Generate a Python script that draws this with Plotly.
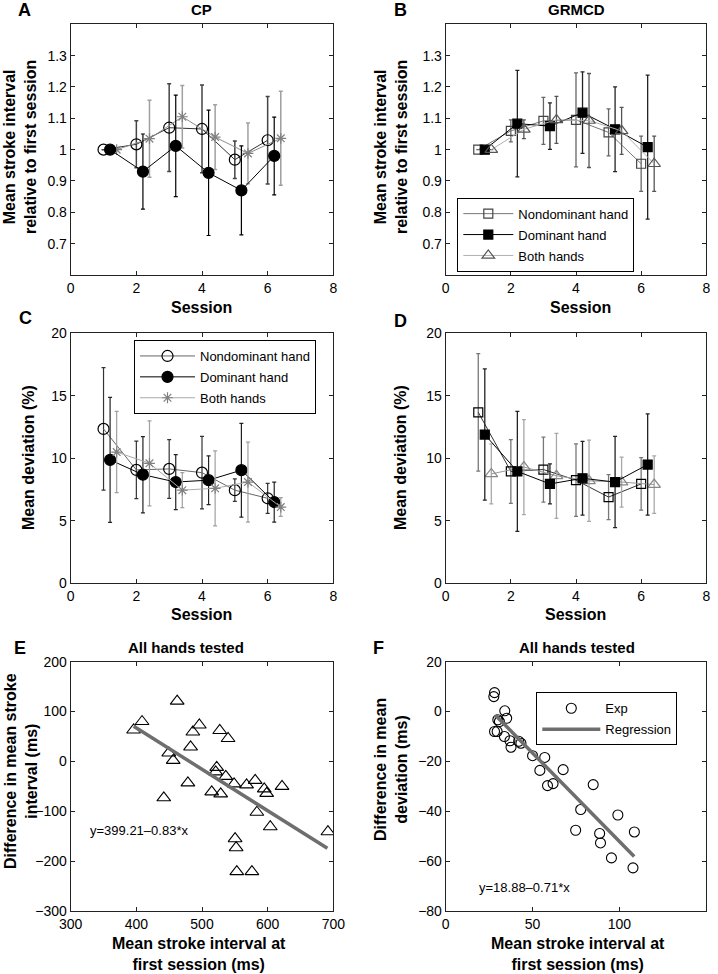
import plotly.graph_objects as go

W, H = 718, 974

# ---------------- data ----------------
sessions = [1, 2, 3, 4, 5, 6]
dom_shift = 0.2
both_shift = 0.4

# Panel A (CP) - mean stroke interval relative to first session
a_nondom = [1.0, 1.017, 1.07, 1.066, 0.968, 1.03]
a_nondom_err = [0, 0.075, 0.14, 0.14, 0.06, 0.14]
a_dom = [1.0, 0.93, 1.012, 0.926, 0.87, 0.98]
a_dom_err = [0, 0.12, 0.162, 0.2, 0.142, 0.124]
a_both = [1.0, 1.035, 1.105, 1.04, 0.988, 1.036]
a_both_err = [0, 0.123, 0.1, 0.103, 0.097, 0.15]

# Panel B (GRMCD)
b_nondom = [1.0, 1.06, 1.092, 1.095, 1.055, 0.955]
b_nondom_err = [0, 0.035, 0.075, 0.15, 0.075, 0.088]
b_dom = [1.0, 1.083, 1.075, 1.118, 1.065, 1.008]
b_dom_err = [0, 0.17, 0.074, 0.13, 0.135, 0.23]
b_both = [1.0, 1.065, 1.095, 1.093, 1.06, 0.955]
b_both_err = [0, 0.03, 0.075, 0.15, 0.075, 0.088]

# Panel C (CP) - mean deviation (%)
c_nondom = [12.35, 9.07, 9.15, 8.85, 7.45, 6.8]
c_nondom_err = [4.9, 2.3, 2.35, 2.9, 0.9, 1.2]
c_dom = [9.87, 8.69, 8.1, 8.25, 9.05, 6.5]
c_dom_err = [5.0, 3.05, 2.2, 1.95, 3.75, 1.6]
c_both = [10.5, 9.6, 7.45, 7.6, 8.1, 6.1]
c_both_err = [3.25, 3.4, 1.4, 3.0, 3.2, 0.75]

# Panel D (GRMCD)
d_nondom = [13.68, 8.95, 9.1, 8.25, 6.9, 7.95]
d_nondom_err = [4.7, 2.55, 2.6, 2.9, 1.8, 2.1]
d_dom = [11.9, 8.95, 7.95, 8.4, 8.1, 9.5]
d_dom_err = [5.25, 4.8, 1.6, 2.95, 3.65, 4.05]
d_both = [8.75, 9.3, 8.6, 8.2, 8.1, 7.9]
d_both_err = [2.4, 3.8, 3.4, 3.25, 2.0, 2.3]

# Panel E - all hands tested (stroke interval)
e_x = [395.8, 408.7, 462.2, 495.9, 486.1, 527, 539.7, 482.6, 449.4, 456.1,
       441.8, 478.5, 522.4, 520.9, 536.2, 548.9, 514.8, 528.5, 567.9, 581,
       594.8, 598.5, 621.9, 583.6, 604, 550.4, 552, 553, 576, 691.8]
e_y = [63, 80, 121, 73, 59, 62, 46, 29, 17, 2,
       -73, -43, -12, -21, -30, -45, -61, -65, -47, -38,
       -55, -64, -50, -102, -131, -155, -173, -221, -221, -141]
e_intercept, e_slope = 399.21, -0.83
e_reg_x = [396, 691]

# Panel F - all hands tested (deviation)
f_x = [28.1, 27.7, 34, 35.1, 30, 30.9, 28.1, 29.6, 33.8, 37.6,
       37, 42, 43.3, 50, 57, 54.2, 67.6, 58.6, 61.8, 84.9,
       77.7, 74.8, 88.6, 89.1, 99.1, 108.6, 95.4, 107.8]
f_y = [7.6, 6, 0.3, -2.7, -3.3, -4, -8, -8, -10, -14.3,
       -11.7, -11.9, -12.7, -17.7, -18.4, -23.6, -23.3, -29.7, -28.9, -29.3,
       -39.3, -47.6, -48.9, -52.7, -41.5, -48.3, -58.7, -62.7]
f_intercept, f_slope = 18.88, -0.71
f_reg_x = [28.5, 108.5]

rel_ticks = [0.7, 0.8, 0.9, 1.0, 1.1, 1.2, 1.3]
rel_ticktext = ["0.7", "0.8", "0.9", "1", "1.1", "1.2", "1.3"]

series_names = ["Nondominant hand", "Dominant hand", "Both hands"]

# ---------------- helpers ----------------
def xp(p):
    return p / W

def yp(p):
    return 1 - p / H

LEFT = [70.7, 333.3]
RIGHT = [445.7, 706.3]
ROW1 = [24.3, 275.0]
ROW2 = [333.3, 583.3]
ROW3 = [661.7, 911.0]

def xdom(c):
    return [xp(c[0]), xp(c[1])]

def ydom(r):
    return [yp(r[1]), yp(r[0])]

fig = go.Figure()

def add_series(ax, xs, ys, err, name, line_color, symbol, mcolor, mline, size,
               err_color, err_thick, legend="legend2", show=False, lw=1):
    fig.add_trace(go.Scatter(
        x=xs, y=ys, mode="lines+markers", name=name,
        xaxis="x" + ax, yaxis="y" + ax,
        line=dict(color=line_color, width=lw),
        marker=dict(symbol=symbol, size=size, color=mcolor,
                    line=dict(color=mline, width=1.2)),
        error_y=dict(type="data", array=err, visible=True, color=err_color,
                     thickness=err_thick, width=2),
        showlegend=show, legend=legend,
        legendgroup=name + ax,
    ))

def shifted(s):
    return [v + s for v in sessions]

# Panel A
add_series("", sessions, a_nondom, a_nondom_err, series_names[0], "#333333",
           "circle-open", "black", "black", 11, "#444444", 1.5)
add_series("", shifted(both_shift), a_both, a_both_err, series_names[2], "#8c8c8c",
           "asterisk-open", "#808080", "#808080", 9, "#a0a0a0", 1.5)
add_series("", shifted(dom_shift), a_dom, a_dom_err, series_names[1], "black",
           "circle", "black", "black", 11, "black", 1.2)

# Panel B
add_series("2", sessions, b_nondom, b_nondom_err, series_names[0], "#777777",
           "square-open", "#444444", "#444444", 9, "#666666", 1.3,
           legend="legend2", show=True)
add_series("2", shifted(dom_shift), b_dom, b_dom_err, series_names[1], "black",
           "square", "black", "black", 9, "#222222", 1.3,
           legend="legend2", show=True)
add_series("2", shifted(both_shift), b_both, b_both_err, series_names[2], "#b0b0b0",
           "triangle-up-open", "#555555", "#555555", 11, "#555555", 1.3,
           legend="legend2", show=True)

# Panel C
add_series("3", sessions, c_nondom, c_nondom_err, series_names[0], "#666666",
           "circle-open", "black", "black", 11, "#333333", 1.2,
           legend="legend3", show=True)
add_series("3", shifted(dom_shift), c_dom, c_dom_err, series_names[1], "black",
           "circle", "black", "black", 11, "#222222", 1.2,
           legend="legend3", show=True)
add_series("3", shifted(both_shift), c_both, c_both_err, series_names[2], "#aaaaaa",
           "asterisk-open", "#808080", "#808080", 9, "#a0a0a0", 1.2,
           legend="legend3", show=True)

# Panel D
add_series("4", sessions, d_nondom, d_nondom_err, series_names[0], "#333333",
           "square-open", "black", "black", 9, "#777777", 1.3)
add_series("4", shifted(both_shift), d_both, d_both_err, series_names[2], "#999999",
           "triangle-up-open", "#888888", "#888888", 11, "#a8a8a8", 1.3)
add_series("4", shifted(dom_shift), d_dom, d_dom_err, series_names[1], "black",
           "square", "black", "black", 9, "#222222", 1.3)

# Panel E
fig.add_trace(go.Scatter(
    x=e_x, y=e_y, mode="markers", xaxis="x5", yaxis="y5", showlegend=False,
    legend="legend4",
    marker=dict(symbol="triangle-up-open", size=12, color="black",
                line=dict(color="black", width=1.1)),
))
fig.add_trace(go.Scatter(
    x=e_reg_x, y=[e_intercept + e_slope * v for v in e_reg_x], mode="lines",
    xaxis="x5", yaxis="y5", showlegend=False, legend="legend4",
    line=dict(color="#6e6e6e", width=3.5),
))

# Panel F
fig.add_trace(go.Scatter(
    x=f_x, y=f_y, mode="markers", name="Exp", xaxis="x6", yaxis="y6",
    marker=dict(symbol="circle-open", size=10, color="black",
                line=dict(color="black", width=1.1)),
    legend="legend4", showlegend=True, legendgroup="exp",
))
fig.add_trace(go.Scatter(
    x=f_reg_x, y=[f_intercept + f_slope * v for v in f_reg_x], mode="lines",
    name="Regression", xaxis="x6", yaxis="y6",
    line=dict(color="#6e6e6e", width=3.5),
    legend="legend4", showlegend=True, legendgroup="reg",
))

# ---------------- axes ----------------
def axis(domain, rng, anchor, **kw):
    d = dict(domain=domain, range=rng, anchor=anchor, showline=True,
             linecolor="#222222", linewidth=1, mirror="ticks", ticks="inside",
             ticklen=4, tickcolor="#222222", showgrid=False, zeroline=False,
             automargin=False, tickfont=dict(size=14, color="black"))
    d.update(kw)
    return d

layout = dict(
    width=W, height=H, margin=dict(l=0, r=0, t=0, b=0, autoexpand=False),
    plot_bgcolor="white", paper_bgcolor="white",
    font=dict(family="Liberation Sans, Arial, sans-serif", color="black"),
    xaxis=axis(xdom(LEFT), [0, 8], "y", dtick=2, tick0=0),
    yaxis=axis(ydom(ROW1), [0.6, 1.4], "x", tickvals=rel_ticks, ticktext=rel_ticktext),
    xaxis2=axis(xdom(RIGHT), [0, 8], "y2", dtick=2, tick0=0),
    yaxis2=axis(ydom(ROW1), [0.6, 1.4], "x2", tickvals=rel_ticks, ticktext=rel_ticktext),
    xaxis3=axis(xdom(LEFT), [0, 8], "y3", dtick=2, tick0=0),
    yaxis3=axis(ydom(ROW2), [0, 20], "x3", dtick=5, tick0=0),
    xaxis4=axis(xdom(RIGHT), [0, 8], "y4", dtick=2, tick0=0),
    yaxis4=axis(ydom(ROW2), [0, 20], "x4", dtick=5, tick0=0),
    xaxis5=axis(xdom(LEFT), [300, 700], "y5", dtick=100, tick0=300),
    yaxis5=axis(ydom(ROW3), [-300, 200], "x5", dtick=100, tick0=0),
    xaxis6=axis(xdom(RIGHT), [0, 150], "y6", dtick=50, tick0=0),
    yaxis6=axis(ydom(ROW3), [-80, 20], "x6", dtick=20, tick0=0),
)

leg_common = dict(bgcolor="white", bordercolor="black", borderwidth=1,
                  font=dict(size=13, color="black"), xanchor="left", yanchor="top",
                  tracegroupgap=1, itemwidth=50, traceorder="grouped")
layout["legend2"] = dict(leg_common, x=xp(457.3), y=yp(197.7))
layout["legend3"] = dict(leg_common, x=xp(134), y=yp(340), itemwidth=55)
layout["legend4"] = dict(leg_common, x=xp(536.3), y=yp(692.3), itemwidth=58)
fig.update_layout(**layout)

# ---------------- text ----------------
def ann(text, x, y, size, bold=True, angle=0, xanchor="center", align="center"):
    t = "<b>" + text.replace("<br>", "</b><br><b>") + "</b>" if bold else text
    fig.add_annotation(text=t, x=xp(x), y=yp(y), xref="paper", yref="paper",
                       showarrow=False, font=dict(size=size, color="black"),
                       textangle=angle, xanchor=xanchor, yanchor="middle",
                       align=align)

# panel letters
for letter, (lx, ly) in {"A": (24, 10), "B": (400, 10), "C": (25, 318),
                         "D": (400, 321), "E": (20, 648), "F": (378, 648)}.items():
    ann(letter, lx, ly, 18)

# titles
ann("CP", 201, 10, 15)
ann("GRMCD", 576, 10, 15)
ann("All hands tested", 186, 647, 15)
ann("All hands tested", 577, 647, 15)

# x titles
ann("Session", 201, 307, 16)
ann("Session", 580, 307, 16)
ann("Session", 201, 614, 16)
ann("Session", 575, 614, 16)
ann("Mean stroke interval at<br>first session (ms)", 199, 954, 16)
ann("Mean stroke interval at<br>first session (ms)", 578, 954, 16)

# y titles
ann("Mean stroke interval<br>relative to first session", 20, 147, 16, angle=-90)
ann("Mean stroke interval<br>relative to first session", 391, 147, 16, angle=-90)
ann("Mean deviation (%)", 28, 458, 16, angle=-90)
ann("Mean deviation (%)", 400, 458, 16, angle=-90)
ann("Difference in mean stroke<br>interval (ms)", 21, 771, 16, angle=-90)
ann("Difference in mean<br>deviation (ms)", 391, 770, 16, angle=-90)

# equations
ann("y=399.21\u20130.83*x", 88, 830, 13, bold=False, xanchor="left")
ann("y=18.88\u20130.71*x", 477, 887, 13, bold=False, xanchor="left")

fig.write_html("out.html", config={"displayModeBar": False},
               post_script="document.body.style.margin='0px';")
